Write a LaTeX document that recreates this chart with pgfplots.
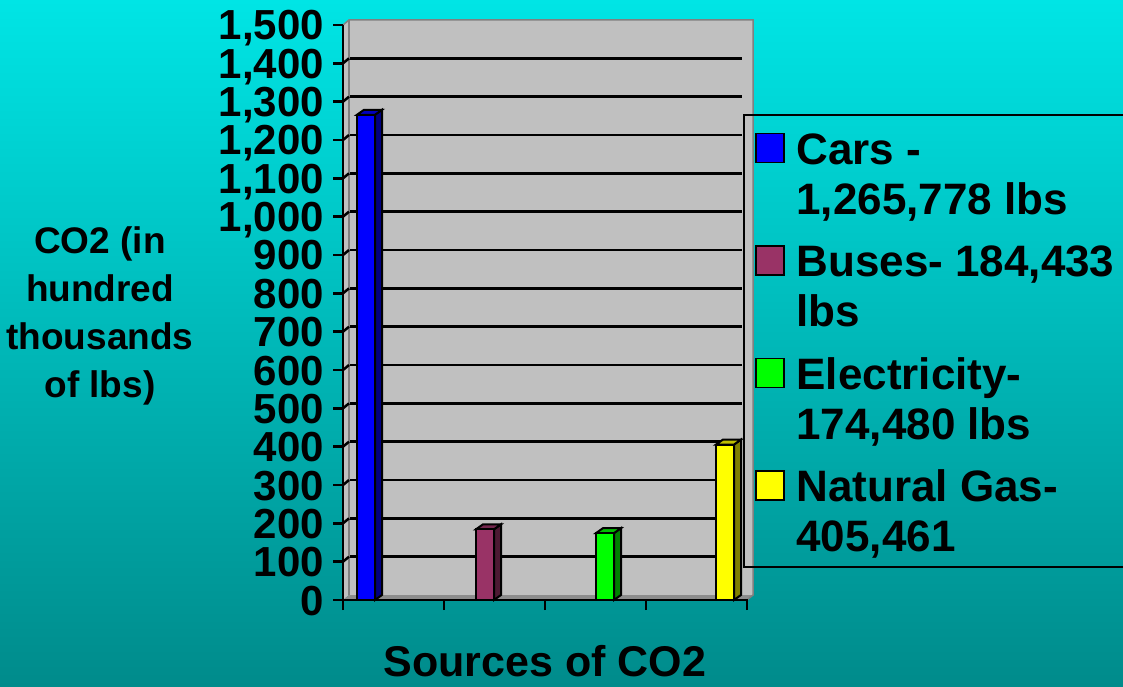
\documentclass[border=0pt]{standalone}
\usepackage{fontspec}
\setmainfont{Liberation Sans}
\usepackage{pgfplots}
\pgfplotsset{compat=1.18}
\definecolor{bgtop}{RGB}{0,229,229}
\definecolor{bgbot}{RGB}{0,139,139}
\definecolor{wall}{RGB}{192,192,192}
\definecolor{walledge}{RGB}{128,128,128}
\definecolor{wallfloor}{RGB}{140,140,140}
\definecolor{cblue}{RGB}{0,0,255}
\definecolor{cblueS}{RGB}{0,0,128}
\definecolor{cblueT}{RGB}{0,0,190}
\definecolor{cbus}{RGB}{153,51,102}
\definecolor{cbusS}{RGB}{77,26,51}
\definecolor{cbusT}{RGB}{115,38,77}
\definecolor{cgreen}{RGB}{0,255,0}
\definecolor{cgreenS}{RGB}{0,128,0}
\definecolor{cgreenT}{RGB}{0,190,0}
\definecolor{cyel}{RGB}{255,255,0}
\definecolor{cyelS}{RGB}{128,128,0}
\definecolor{cyelT}{RGB}{190,190,0}
\begin{document}
\begin{tikzpicture}[x=1pt,y=1pt]
\useasboundingbox (0,0) rectangle (1123,686);
\clip (0,0) rectangle (1123,686);
\shade[top color=bgtop, bottom color=bgbot] (0,0) rectangle (1123,686);
% left side wall
\fill[wall] (343,86) -- (349,91) -- (349,666) -- (343,661) -- cycle;
% back wall with grid
\begin{axis}[at={(349pt,91pt)}, anchor=south west, scale only axis,
  width=393pt, height=575pt, xmin=0, xmax=1, ymin=0, ymax=1500,
  ytick={100,200,300,400,500,600,700,800,900,1000,1100,1200,1300,1400},
  xtick=\empty, yticklabels={}, major tick length=0pt,
  ymajorgrids, grid style={black, line width=2.5pt},
  axis background/.style={fill=wall}, axis line style={draw=none}]
\end{axis}
\fill[wall] (742,91) rectangle (753,666);
\fill[wallfloor] (343,86) -- (349,91) -- (753,91) -- (747,86) -- cycle;
\draw[walledge, line width=1.5pt] (343,661) -- (349,666) -- (753,666) -- (753,91) -- (747,86);
\draw[walledge, line width=1.5pt] (349,91) -- (349,666);
\begin{axis}[at={(343pt,86pt)}, anchor=south west, scale only axis,
  width=405pt, height=575pt, xmin=343, xmax=748, ymin=0, ymax=1500,
  clip=false, axis x line=bottom, axis y line=left,
  axis line style={-, black, line width=2.5pt},
  ytick={0,100,200,300,400,500,600,700,800,900,1000,1100,1200,1300,1400,1500},
  xtick={343,444,545,646,747}, xticklabels={},
  tick align=outside, major tick length=10pt,
  tick style={black, line width=2.5pt},
  yticklabel style={font=\fontsize{42}{42}\selectfont\bfseries, anchor=east,
    text height=30pt, text depth=0pt, inner sep=0pt, xshift=-9pt},
  /pgf/number format/1000 sep={,},
  /pgf/number format/assume math mode=true,
  xlabel={Sources of CO2},
  xlabel style={font=\fontsize{43}{43}\selectfont\bfseries,
    at={(axis description cs:0.4988,-0.1339)}, anchor=base, inner sep=0pt},
  ylabel={CO2 (in\\hundred\\thousands\\of lbs)},
  ylabel style={font=\fontsize{37}{48}\selectfont\bfseries, rotate=-90,
    at={(axis description cs:-0.6,0.4943)}, anchor=center, align=center, inner sep=0pt},
  legend style={at={(axis description cs:0.98765,0.84522)}, anchor=north west,
    draw=black, line width=2pt, fill=none, inner xsep=11pt, inner ysep=14pt,
    row sep=26pt, font=\fontsize{44}{50}\selectfont\bfseries,
    nodes={inner sep=0pt, align=left},
    /tikz/every odd column/.append style={column sep=12pt}},
  legend cell align=left,
  legend image code/.code={\draw[#1, line width=1.5pt] (0pt,10pt) rectangle (28pt,39pt);}
  ]
\pgfplotsinvokeforeach{100,200,300,400,500,600,700,800,900,1000,1100,1200,1300,1400}{
  \draw[black, line width=2.5pt] (axis cs:343,#1) -- (axis cs:349,#1+13.04);
}
% Cars
\addplot[fill=cblueS, draw=black, line width=2pt, forget plot] coordinates {(375,0) (382,13.04) (382,1278.818) (375,1265.778)} --cycle;
\addplot[fill=cblueT, draw=black, line width=2pt, forget plot] coordinates {(357,1265.778) (364,1278.818) (382,1278.818) (375,1265.778)} --cycle;
\addplot[ybar, bar width=18, bar shift=0pt, fill=cblue, draw=black, line width=2pt] coordinates {(366,1265.778)};
\addlegendentry{\rule{0pt}{35pt}Cars -\\1,265,778 lbs}
% Buses
\addplot[fill=cbusS, draw=black, line width=2pt, forget plot] coordinates {(494,0) (501,13.04) (501,197.473) (494,184.433)} --cycle;
\addplot[fill=cbusT, draw=black, line width=2pt, forget plot] coordinates {(476,184.433) (483,197.473) (501,197.473) (494,184.433)} --cycle;
\addplot[ybar, bar width=18, bar shift=0pt, fill=cbus, draw=black, line width=2pt] coordinates {(485,184.433)};
\addlegendentry{\rule{0pt}{35pt}Buses- 184,433\\lbs}
% Electricity
\addplot[fill=cgreenS, draw=black, line width=2pt, forget plot] coordinates {(614,0) (621,13.04) (621,187.52) (614,174.48)} --cycle;
\addplot[fill=cgreenT, draw=black, line width=2pt, forget plot] coordinates {(596,174.48) (603,187.52) (621,187.52) (614,174.48)} --cycle;
\addplot[ybar, bar width=18, bar shift=0pt, fill=cgreen, draw=black, line width=2pt] coordinates {(605,174.48)};
\addlegendentry{\rule{0pt}{35pt}Electricity-\\174,480 lbs}
% Natural gas
\addplot[fill=cyelS, draw=black, line width=2pt, forget plot] coordinates {(734,0) (741,13.04) (741,418.501) (734,405.461)} --cycle;
\addplot[fill=cyelT, draw=black, line width=2pt, forget plot] coordinates {(716,405.461) (723,418.501) (741,418.501) (734,405.461)} --cycle;
\addplot[ybar, bar width=18, bar shift=0pt, fill=cyel, draw=black, line width=2pt] coordinates {(725,405.461)};
\addlegendentry{\rule{0pt}{35pt}Natural Gas-\\405,461}
\end{axis}
\end{tikzpicture}
\end{document}
